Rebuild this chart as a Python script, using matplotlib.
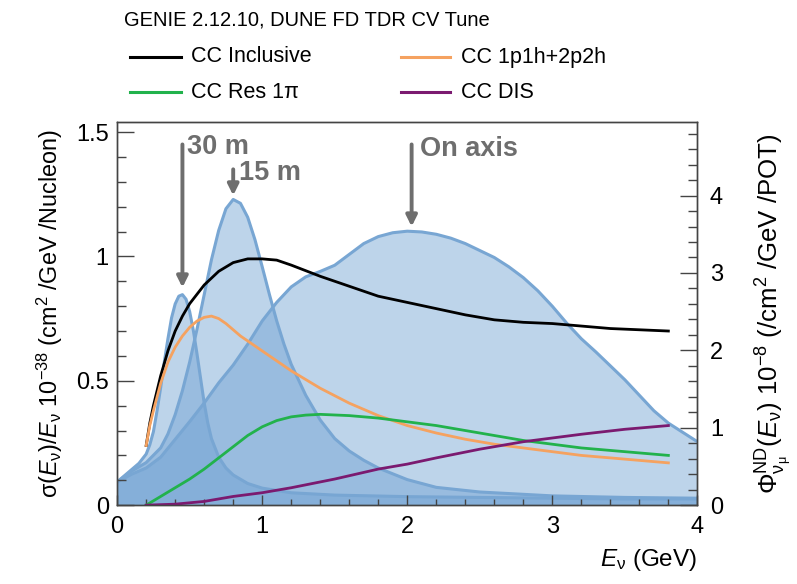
import matplotlib
matplotlib.use("Agg")
import matplotlib.pyplot as plt
from matplotlib.lines import Line2D
from matplotlib.ticker import MultipleLocator

# ==============================
# SETTINGS
# ==============================

plt.rcParams["font.family"] = ["Liberation Sans", "DejaVu Sans"]
plt.rcParams["mathtext.fontset"] = "custom"
plt.rcParams["mathtext.rm"] = "Liberation Sans"
plt.rcParams["mathtext.it"] = "Liberation Sans:italic"
plt.rcParams["mathtext.bf"] = "Liberation Sans:bold"

FLUX_FACE = "#6ea0d2"
FLUX_EDGE = "#78a6d3"
ARROW_GREY = "#6e6e6e"
AXIS_GREY = "#444444"

# ==============================
# DATA
# ==============================

# fluxes, right axis (1e-8 /cm2 /GeV /POT)
e_onaxis = [0.0, 0.1, 0.2, 0.3, 0.4, 0.5, 0.6, 0.7, 0.8, 0.9, 1.0, 1.1, 1.2, 1.3,
            1.4, 1.5, 1.6, 1.7, 1.8, 1.9, 2.0, 2.1, 2.2, 2.3, 2.4, 2.5, 2.6, 2.7,
            2.8, 2.9, 3.0, 3.1, 3.2, 3.3, 3.4, 3.5, 3.6, 3.7, 3.8, 3.9, 4.0]
flux_onaxis = [0.30, 0.40, 0.48, 0.62, 0.85, 1.08, 1.32, 1.58, 1.81, 2.08, 2.38,
               2.62, 2.82, 2.95, 3.02, 3.10, 3.24, 3.38, 3.47, 3.52, 3.54, 3.53,
               3.50, 3.45, 3.38, 3.29, 3.20, 3.08, 2.94, 2.77, 2.57, 2.35, 2.15,
               1.98, 1.80, 1.62, 1.42, 1.22, 1.06, 0.94, 0.82]

e_15m = [0.0, 0.1, 0.2, 0.3, 0.35, 0.4, 0.45, 0.5, 0.55, 0.6, 0.65, 0.7, 0.75,
         0.8, 0.85, 0.9, 0.95, 1.0, 1.05, 1.1, 1.15, 1.2, 1.3, 1.4, 1.5, 1.6,
         1.7, 1.8, 2.0, 2.2, 2.5, 3.0, 3.5, 4.0]
flux_15m = [0.30, 0.44, 0.55, 0.74, 0.92, 1.17, 1.48, 1.85, 2.27, 2.72, 3.17,
            3.55, 3.83, 3.95, 3.90, 3.72, 3.43, 3.08, 2.72, 2.38, 2.08, 1.82,
            1.42, 1.10, 0.86, 0.70, 0.58, 0.48, 0.33, 0.23, 0.17, 0.12, 0.10,
            0.09]

e_30m = [0.0, 0.05, 0.1, 0.15, 0.2, 0.225, 0.25, 0.275, 0.3, 0.325, 0.35, 0.375,
         0.4, 0.425, 0.45, 0.475, 0.5, 0.525, 0.55, 0.575, 0.6, 0.625, 0.65,
         0.7, 0.75, 0.8, 0.9, 1.0, 1.2, 1.5, 2.0, 2.5, 3.0, 3.5, 4.0]
flux_30m = [0.30, 0.38, 0.46, 0.54, 0.66, 0.78, 0.95, 1.22, 1.52, 1.85, 2.15,
            2.42, 2.60, 2.70, 2.72, 2.66, 2.50, 2.26, 1.96, 1.64, 1.32, 1.06,
            0.86, 0.62, 0.48, 0.39, 0.28, 0.22, 0.16, 0.13, 0.11, 0.10, 0.09,
            0.08, 0.08]

# cross sections, left axis (1e-38 cm2 /GeV /Nucleon)
e_incl = [0.2, 0.225, 0.25, 0.3, 0.35, 0.4, 0.45, 0.5, 0.6, 0.7, 0.8, 0.9, 1.0,
          1.1, 1.2, 1.4, 1.6, 1.8, 2.0, 2.2, 2.4, 2.6, 2.8, 3.0, 3.2, 3.4, 3.6,
          3.8]
xs_incl = [0.24, 0.33, 0.40, 0.52, 0.62, 0.70, 0.76, 0.81, 0.885, 0.94, 0.975,
           0.99, 0.99, 0.985, 0.965, 0.92, 0.88, 0.84, 0.815, 0.79, 0.765,
           0.745, 0.735, 0.73, 0.72, 0.71, 0.705, 0.70]

e_qe = [0.2, 0.225, 0.25, 0.3, 0.35, 0.4, 0.45, 0.5, 0.55, 0.6, 0.65, 0.7, 0.75,
        0.85, 1.0, 1.2, 1.4, 1.6, 1.8, 2.0, 2.2, 2.4, 2.6, 2.8, 3.0, 3.2, 3.4,
        3.6, 3.8]
xs_qe = [0.24, 0.32, 0.38, 0.49, 0.575, 0.635, 0.68, 0.715, 0.74, 0.755, 0.76,
         0.75, 0.73, 0.68, 0.62, 0.54, 0.47, 0.41, 0.36, 0.32, 0.29, 0.265,
         0.245, 0.23, 0.215, 0.20, 0.19, 0.18, 0.17]

e_res = [0.2, 0.3, 0.4, 0.5, 0.6, 0.7, 0.8, 0.9, 1.0, 1.1, 1.2, 1.3, 1.4, 1.6,
         1.8, 2.0, 2.2, 2.4, 2.6, 2.8, 3.0, 3.2, 3.4, 3.6, 3.8]
xs_res = [0.0, 0.035, 0.07, 0.105, 0.145, 0.19, 0.235, 0.28, 0.315, 0.34, 0.355,
          0.362, 0.365, 0.36, 0.35, 0.335, 0.32, 0.30, 0.28, 0.26, 0.245, 0.23,
          0.22, 0.21, 0.20]

e_dis = [0.2, 0.4, 0.6, 0.8, 1.0, 1.2, 1.5, 1.8, 2.0, 2.2, 2.5, 2.8, 3.0, 3.2,
         3.5, 3.8]
xs_dis = [0.0, 0.004, 0.015, 0.035, 0.05, 0.07, 0.105, 0.145, 0.165, 0.19,
          0.225, 0.255, 0.27, 0.285, 0.305, 0.32]

xs_names = ["CC Inclusive", "CC 1p1h+2p2h", "CC Res 1\u03c0", "CC DIS"]
xs_colors = ["black", "#f5a260", "#22b24c", "#7b1a70"]

# ==============================
# FIGURE
# ==============================

fig = plt.figure(figsize=(7.97, 5.84), dpi=100)
ax = fig.add_axes([0.147, 0.135, 0.728, 0.656])
ax2 = ax.twinx()

# fluxes go on the right axis, drawn behind the cross sections
for e, f in [(e_onaxis, flux_onaxis), (e_15m, flux_15m), (e_30m, flux_30m)]:
    ax2.fill_between(e, 0, f, color=FLUX_FACE, alpha=0.45, lw=0)
    ax2.plot(e, f, color=FLUX_EDGE, lw=2.2, solid_joinstyle="round")

ax.set_zorder(ax2.get_zorder() + 1)
ax.patch.set_visible(False)

xs_data = [(e_incl, xs_incl), (e_qe, xs_qe), (e_res, xs_res), (e_dis, xs_dis)]
for (e, s), c in zip(xs_data, xs_colors):
    ax.plot(e, s, color=c, lw=2, solid_joinstyle="round")

ax.set_xlim(0, 4)
ax.set_ylim(0, 1.54)
ax2.set_ylim(0, 4.95)

# ==============================
# ARROWS
# ==============================

arrow = dict(arrowstyle="-|>", color=ARROW_GREY, lw=2.8, mutation_scale=16,
             shrinkA=0, shrinkB=0)
ax.annotate("", xy=(0.45, 0.875), xytext=(0.45, 1.45), arrowprops=arrow)
ax.annotate("", xy=(0.80, 1.245), xytext=(0.80, 1.35), arrowprops=arrow)
ax.annotate("", xy=(2.03, 1.12), xytext=(2.03, 1.45), arrowprops=arrow)

lab = dict(color=ARROW_GREY, fontsize=19.5, fontweight="bold", va="center", ha="left")
ax.text(0.48, 1.44, "30 m", **lab)
ax.text(0.84, 1.335, "15 m", **lab)
ax.text(2.09, 1.43, "On axis", **lab)

# ==============================
# AXES STYLE
# ==============================

ax.xaxis.set_major_locator(MultipleLocator(1))
ax.xaxis.set_minor_locator(MultipleLocator(0.2))
ax.set_yticks([0, 0.5, 1, 1.5])
ax.set_yticklabels(["0", "0.5", "1", "1.5"])
ax.yaxis.set_minor_locator(MultipleLocator(0.1))
ax2.yaxis.set_major_locator(MultipleLocator(1))
ax2.yaxis.set_minor_locator(MultipleLocator(0.2))

ax.tick_params(axis="y", which="major", direction="in", length=12, width=1,
               labelsize=17, right=False, color=AXIS_GREY, pad=6)
ax.tick_params(axis="y", which="minor", direction="in", length=6.5, width=1,
               right=False, color=AXIS_GREY)
ax.tick_params(axis="x", which="major", direction="in", length=7, width=1,
               labelsize=17, top=False, color=AXIS_GREY, pad=8)
ax.tick_params(axis="x", which="minor", direction="in", length=4, width=1,
               top=False, color=AXIS_GREY)
ax2.tick_params(axis="y", which="major", direction="in", length=12, width=1,
                labelsize=17, color=AXIS_GREY, pad=9)
ax2.tick_params(axis="y", which="minor", direction="in", length=6.5, width=1,
                color=AXIS_GREY)

for a in (ax, ax2):
    for sp in a.spines.values():
        sp.set_color(AXIS_GREY)
        sp.set_linewidth(1)

ax.set_ylabel(r"$\mathrm{\sigma}(E_{\mathrm{\nu}})/E_{\mathrm{\nu}}$ 10$^{-38}$ (cm$^{2}$ /GeV /Nucleon)",
              fontsize=16.8, labelpad=8)
ax2.set_ylabel(r"$\Phi^{\mathrm{ND}}_{\mathrm{\nu}_{\mathrm{\mu}}}(E_{\mathrm{\nu}})$ 10$^{-8}$ (/cm$^{2}$ /GeV /POT)",
               fontsize=18.6, rotation=90, labelpad=22)
ax.set_xlabel(r"$E_{\mathrm{\nu}}$ (GeV)", fontsize=17.5, loc="right", labelpad=6)

# ==============================
# LEGEND (drawn by hand, ROOT-like)
# ==============================

fig.text(124 / 797, 1 - 20 / 584, "GENIE 2.12.10, DUNE FD TDR CV Tune",
         fontsize=14.5, va="center", ha="left")
rows = [57, 57, 92, 92]
cols = [(130, 181, 191), (401, 450, 461), (130, 181, 191), (401, 450, 461)]
for name, c, yp, (x0, x1, xt) in zip(xs_names, xs_colors, rows, cols):
    y = 1 - yp / 584
    fig.add_artist(Line2D([x0 / 797, x1 / 797], [y, y], color=c, lw=2.2,
                          transform=fig.transFigure))
    fig.text(xt / 797, y, name, fontsize=15.5, va="center", ha="left")

fig.savefig("out.png", dpi=100)
